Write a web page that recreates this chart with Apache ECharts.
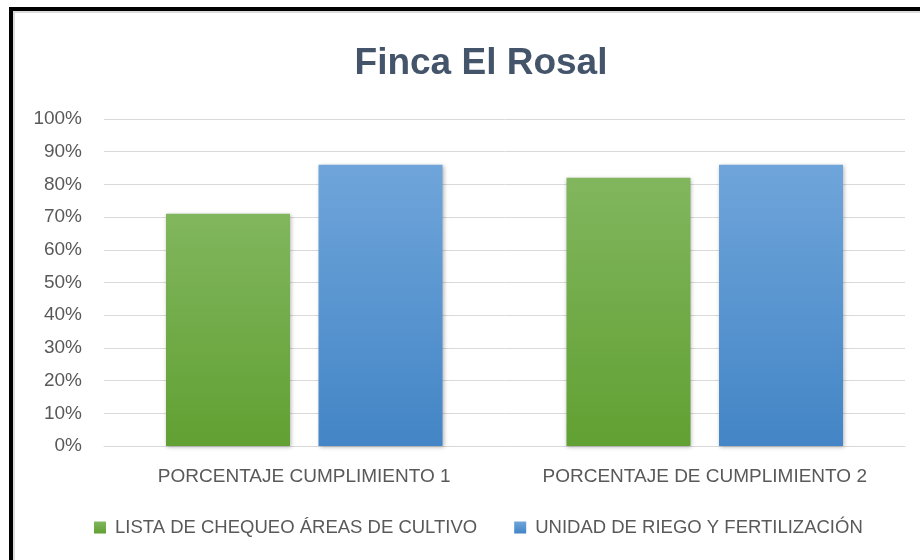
<!DOCTYPE html>
<html>
<head>
<meta charset="utf-8">
<script src="https://cdn.jsdelivr.net/npm/echarts@6/dist/echarts.min.js"></script>
<style>html,body{margin:0;padding:0;background:#fff}#c{width:920px;height:560px}</style>
</head>
<body>
<div id="c"></div>
<script>
const titleText = 'Finca El Rosal';
const categories = ['PORCENTAJE CUMPLIMIENTO 1', 'PORCENTAJE DE CUMPLIMIENTO 2'];
const seriesNames = ['LISTA DE CHEQUEO ÁREAS DE CULTIVO', 'UNIDAD DE RIEGO Y FERTILIZACIÓN'];
const listaValues = [71, 82];
const unidadValues = [86, 86];

const FONT = 'Liberation Sans';
const TEXT = '#595959';

function grad(top, bottom) {
  return new echarts.graphic.LinearGradient(0, 0, 0, 1, [
    { offset: 0, color: top }, { offset: 1, color: bottom }
  ]);
}
const green = grad('#81B65E', '#61A032');
const blue = grad('#6FA5DA', '#4385C6');

const chart = echarts.init(document.getElementById('c'), null, { renderer: 'canvas' });
chart.setOption({
  backgroundColor: '#ffffff',
  animation: false,
  title: {
    text: titleText,
    left: 476, top: 40, textAlign: 'center',
    textStyle: { fontFamily: FONT, fontWeight: 'bold', fontSize: 37, color: '#44546A' }
  },
  legend: {
    left: 94, top: 518, padding: 0,
    itemWidth: 12, itemHeight: 12, itemGap: 37,
    icon: 'rect',
    textStyle: { fontFamily: FONT, fontSize: 18.5, color: TEXT, padding: [0, 0, 0, 4] },
    data: seriesNames
  },
  grid: { left: 104, right: 15, top: 119, bottom: 114, containLabel: false },
  xAxis: {
    type: 'category', data: categories,
    axisLine: { show: true, lineStyle: { color: '#D9D9D9', width: 1 } },
    axisTick: { show: false },
    axisLabel: { interval: 0, hideOverlap: false, fontFamily: FONT, fontSize: 19, color: TEXT, margin: 21 }
  },
  yAxis: {
    type: 'value', min: 0, max: 100, interval: 10,
    axisLine: { show: false }, axisTick: { show: false },
    axisLabel: { fontFamily: FONT, fontSize: 19, color: TEXT, margin: 22, formatter: '{value}%' },
    splitLine: { lineStyle: { color: '#D9D9D9', width: 1 } }
  },
  series: [
    { name: seriesNames[0], type: 'bar', data: listaValues, barWidth: 124, barGap: '23%',
      itemStyle: { color: green, shadowColor: 'rgba(0,0,0,0.3)', shadowBlur: 4, shadowOffsetX: 1, shadowOffsetY: 1 } },
    { name: seriesNames[1], type: 'bar', data: unidadValues, barWidth: 124, barGap: '23%',
      itemStyle: { color: blue, shadowColor: 'rgba(0,0,0,0.3)', shadowBlur: 4, shadowOffsetX: 1, shadowOffsetY: 1 } }
  ],
  graphic: [
    { type: 'rect', silent: true, z: 100,
      shape: { x: 11, y: 9, width: 1200, height: 1200 },
      style: { fill: 'none', stroke: '#000000', lineWidth: 4 } },
    { type: 'rect', silent: true, z: 100,
      shape: { x: 14, y: 12, width: 1200, height: 1200 },
      style: { fill: 'none', stroke: '#D0D0D0', lineWidth: 1.5 } }
  ]
});
</script>
</body>
</html>
